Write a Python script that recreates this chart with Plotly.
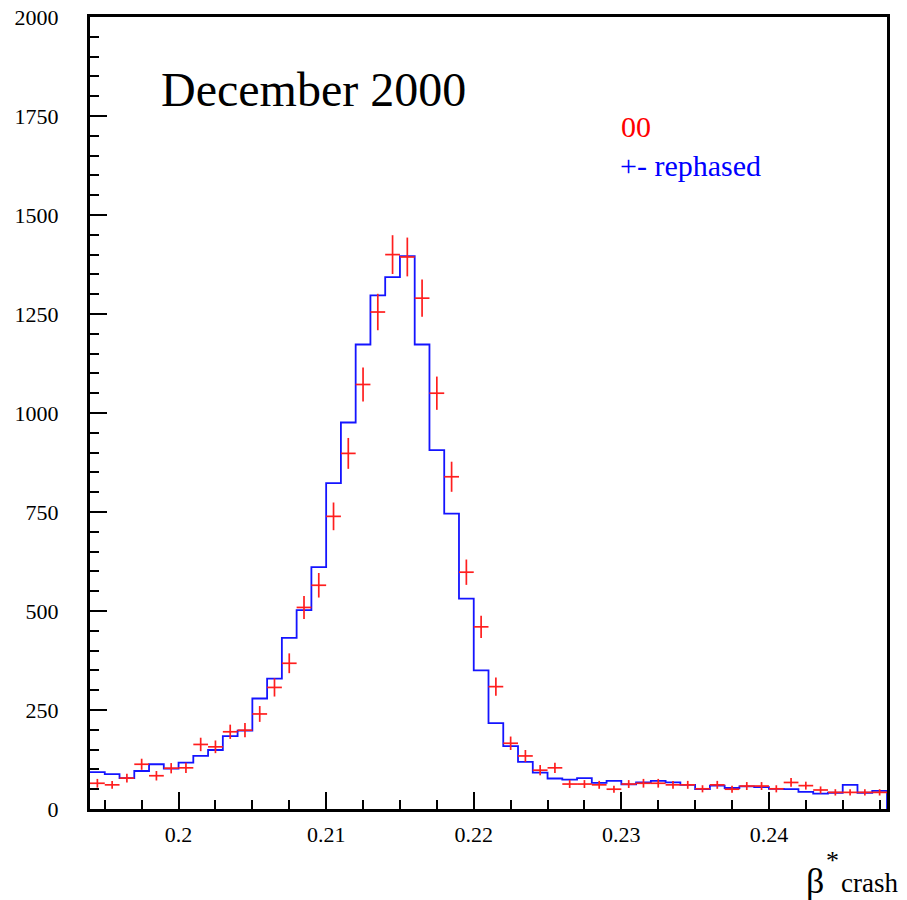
import plotly.graph_objects as go

# Bin lower edges (bin width 0.001) from 0.194 to 0.247
bin_width = 0.001
n_bins = 54
bin_lo = [round(0.194 + i * bin_width, 4) for i in range(n_bins)]

# Blue histogram: "+- rephased"
rephased = [93, 88, 78, 96, 113, 102, 117, 134, 149, 184,
            198, 279, 329, 432, 502, 611, 823, 976, 1173, 1297,
            1343, 1396, 1173, 906, 746, 531, 350, 217, 159, 119,
            92, 77, 74, 78, 66, 71, 62, 67, 71, 67,
            61, 50, 59, 53, 57, 55, 51, 50, 43, 39,
            41, 61, 41, 46]

# Red points: "00"
zero_zero = [65, 61, 78, 113, 84, 103, 104, 163, 157, 195,
             199, 240, 307, 368, 509, 565, 739, 898, 1072, 1255,
             1400, 1394, 1290, 1050, 839, 598, 460, 309, 166, 134,
             98, 104, 63, 63, 61, 50, 63, 65, 65, 61,
             61, 51, 61, 50, 58, 58, 51, 67, 59, 48,
             42, 42, 42, 42]
zero_zero_err = [11, 10, 11, 14, 12, 13, 13, 17, 16, 18,
                 18, 20, 23, 25, 29, 31, 35, 39, 43, 46,
                 49, 49, 47, 42, 38, 32, 28, 23, 17, 15,
                 13, 13, 10, 10, 10, 9, 10, 11, 11, 10,
                 10, 9, 10, 9, 10, 10, 9, 11, 10, 9,
                 8, 8, 8, 8]

x_range = [0.194, 0.248]
y_range = [0, 2000]

FONT = "Liberation Serif"

# step outline for histogram
hx = bin_lo + [bin_lo[-1] + bin_width, bin_lo[-1] + bin_width]
hy = rephased + [rephased[-1], 0]

centers = [b + bin_width / 2 for b in bin_lo]

fig = go.Figure()
fig.add_trace(go.Scatter(
    x=hx, y=hy, mode="lines", line=dict(color="rgb(20,20,255)", width=1.8, shape="hv"),
    hoverinfo="skip", showlegend=False))
fig.add_trace(go.Scatter(
    x=centers, y=zero_zero, mode="markers",
    marker=dict(size=1, color="rgb(255,30,30)"),
    error_x=dict(type="constant", value=bin_width / 2, width=0, thickness=1.7, color="rgb(255,30,30)"),
    error_y=dict(type="data", array=zero_zero_err, width=0, thickness=1.7, color="rgb(255,30,30)"),
    showlegend=False))

W, H = 907, 900
L, R, T, B = 90, 20, 17, 91
pw, ph = W - L - R, H - T - B


def px2paper(px, py):
    return (px - L) / pw, (H - B - py) / ph


annotations = []
def add_text(text, px, py, size, color="black", xanchor="left"):
    x, y = px2paper(px, py)
    annotations.append(dict(text=text, x=x, y=y, xref="paper", yref="paper",
                            xanchor=xanchor, yanchor="middle", showarrow=False,
                            font=dict(family=FONT, size=size, color=color)))

add_text("December 2000", 159, 90, 48)
add_text("00", 619, 126, 30, color="red")
add_text("+- rephased", 618, 165, 30, color="blue")
add_text("β", 815, 881, 36, xanchor="center")
add_text("*", 824, 860, 26)
add_text("crash", 839, 883, 27)

fig.update_layout(
    width=W, height=H,
    margin=dict(l=L, r=R, t=T, b=B, autoexpand=False),
    paper_bgcolor="white", plot_bgcolor="white",
    showlegend=False,
    annotations=annotations,
)
fig.update_xaxes(
    range=x_range, tick0=0.2, dtick=0.01, ticks="inside", ticklen=17, tickwidth=1.5,
    tickcolor="black", showgrid=False, zeroline=False, showline=True, linewidth=3,
    linecolor="black", mirror=True, ticklabelstandoff=4, automargin=False,
    tickfont=dict(family=FONT, size=22, color="black"),
    minor=dict(dtick=0.0025, ticks="inside", ticklen=9, tickwidth=1.5, tickcolor="black", showgrid=False),
)
fig.update_yaxes(
    range=y_range, tick0=0, dtick=250, ticks="inside", ticklen=17, tickwidth=1.5,
    tickcolor="black", showgrid=False, zeroline=False, showline=True, linewidth=3,
    linecolor="black", mirror=True, ticklabelstandoff=24, automargin=False,
    tickfont=dict(family=FONT, size=22, color="black"),
    minor=dict(dtick=50, ticks="inside", ticklen=9, tickwidth=1.5, tickcolor="black", showgrid=False),
)

fig.write_html("out.html")
